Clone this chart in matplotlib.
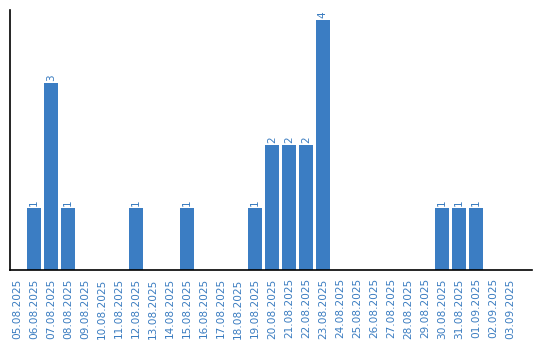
import matplotlib.pyplot as plt

dates = ["05.08.2025", "06.08.2025", "07.08.2025", "08.08.2025", "09.08.2025",
         "10.08.2025", "11.08.2025", "12.08.2025", "13.08.2025", "14.08.2025",
         "15.08.2025", "16.08.2025", "17.08.2025", "18.08.2025", "19.08.2025",
         "20.08.2025", "21.08.2025", "22.08.2025", "23.08.2025", "24.08.2025",
         "25.08.2025", "26.08.2025", "27.08.2025", "28.08.2025", "29.08.2025",
         "30.08.2025", "31.08.2025", "01.09.2025", "02.09.2025", "03.09.2025"]
counts = [0, 1, 3, 1, 0, 0, 0, 1, 0, 0, 1, 0, 0, 0, 1,
          2, 2, 2, 4, 0, 0, 0, 0, 0, 0, 1, 1, 1, 0, 0]

blue = "#3b7dc3"
text_blue = "#3a7cc0"

fig = plt.figure(figsize=(5.4, 3.4), dpi=100)
ax = fig.add_axes([0.019, 0.206, 0.966, 0.764])

x = list(range(len(dates)))
ax.bar(x, counts, width=0.82, color=blue)

for i, c in enumerate(counts):
    if c > 0:
        ax.text(i, c + 0.03, str(c), rotation=90, ha="center", va="bottom",
                color=text_blue, fontsize=7.5)

ax.set_xticks(x)
ax.set_xticklabels(dates, rotation=90, color=text_blue, fontsize=7.6)
ax.tick_params(axis="x", length=0, pad=6)
ax.set_yticks([])
ax.set_xlim(-0.4, 30.3)
ax.set_ylim(0, 4.16)

for s in ["top", "right"]:
    ax.spines[s].set_visible(False)
ax.spines["left"].set_linewidth(1.2)
ax.spines["bottom"].set_linewidth(1.2)

fig.savefig("out.png", dpi=100)
